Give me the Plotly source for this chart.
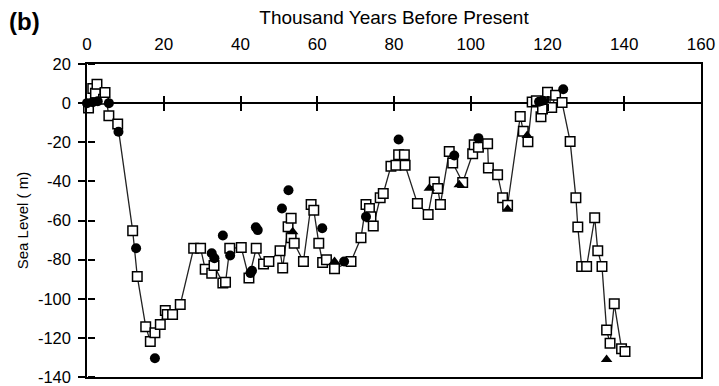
import plotly.graph_objects as go

# Open squares (connected series): age (kyr BP), sea level (m)
sq_age = [0.4, 1.5, 2.2, 2.6, 4.3, 4.7, 5.7, 8.0, 11.9, 13.1, 15.3, 16.5, 17.7, 19.1,
          20.4, 20.9, 22.3, 24.3, 27.8, 29.6, 30.8, 32.5, 33.1, 35.4, 36.1, 37.2, 40.2,
          42.2, 44.1, 46.0, 47.4, 50.3, 51.0, 52.4, 53.2, 53.2, 54.0, 56.4, 58.4, 59.1,
          60.4, 61.4, 62.4, 64.5, 68.8, 71.4, 72.7, 73.6, 74.0, 74.6, 76.4, 77.2, 79.2,
          80.5, 81.2, 82.7, 82.9, 86.1, 88.9, 90.5, 91.4, 92.1, 94.4, 95.3, 97.9, 100.5,
          100.9, 102.0, 104.4, 104.6, 107.0, 108.3, 109.6, 112.9, 113.7, 114.9, 116.0,
          117.1, 118.3, 118.7, 120.0, 121.1, 122.1, 123.8, 125.9, 127.4, 127.9, 128.9,
          130.2, 132.3, 133.1, 134.2, 135.4, 136.3, 137.4, 139.3, 140.2]
sq_sl = [-2.5, 7.5, 5.0, 9.7, 2.0, 5.4, -6.4, -10.7, -65.2, -88.6, -114.3, -121.8, -117.4, -113.2,
         -106.0, -108.0, -108.0, -103.0, -74.2, -74.2, -84.9, -87.0, -83.0, -92.0, -91.6, -74.2, -73.8,
         -89.4, -74.2, -82.3, -81.0, -75.5, -84.3, -63.2, -58.9, -68.8, -71.6, -81.0, -51.8, -54.7,
         -71.6, -81.5, -80.0, -84.7, -81.0, -68.8, -51.8, -53.9, -58.1, -62.8, -48.4, -46.2, -32.3,
         -31.8, -26.4, -26.4, -31.8, -51.3, -56.9, -40.3, -43.7, -51.8, -24.7, -30.6, -40.6, -25.9,
         -21.3, -22.5, -20.8, -33.2, -36.6, -48.4, -52.2, -6.8, -14.4, -19.7, 0.6,
         1.2, -7.0, -3.0, 5.5, -2.2, 4.0, 0.3, -19.6, -48.4, -63.3, -83.5,
         -83.5, -58.6, -75.5, -83.5, -116.0, -122.8, -102.6, -125.5, -127.0]

# Filled circles
ci_age = [0.0, 1.5, 2.8, 5.7, 8.2, 12.8, 17.7, 32.5, 33.2, 35.4, 37.3, 42.6, 43.0, 44.0, 44.5,
          50.8, 52.5, 61.3, 67.0, 72.7, 81.2, 95.7, 102.0, 117.8, 118.7, 124.1]
ci_sl = [0.0, 0.5, 1.0, 0.0, -14.6, -74.2, -130.4, -76.7, -79.3, -67.7, -77.9, -86.9, -85.7, -63.5, -64.9,
         -53.9, -44.5, -64.0, -81.0, -58.1, -18.6, -26.8, -17.9, 0.7, 1.2, 7.1]

# Filled triangles
tr_age = [53.6, 64.5, 89.2, 97.0, 109.6, 114.7, 135.4]
tr_sl = [-65.7, -81.0, -43.5, -41.7, -54.2, -16.5, -131.0]

x_ticks = [0, 20, 40, 60, 80, 100, 120, 140, 160]
y_ticks = [20, 0, -20, -40, -60, -80, -100, -120, -140]
y_ticktext = [str(v) for v in y_ticks]
x_range = [0, 160]
y_range = [-140, 20]

FONT = "Liberation Sans, Arial, sans-serif"

fig = go.Figure()
fig.add_trace(go.Scatter(
    x=sq_age, y=sq_sl, mode="lines+markers",
    line=dict(color="#222", width=1.3),
    marker=dict(symbol="square", size=9.5, color="white", line=dict(color="black", width=1.5)),
    cliponaxis=False))
fig.add_trace(go.Scatter(
    x=ci_age, y=ci_sl, mode="markers",
    marker=dict(symbol="circle", size=10, color="black"),
    cliponaxis=False))
fig.add_trace(go.Scatter(
    x=tr_age, y=tr_sl, mode="markers",
    marker=dict(symbol="triangle-up", size=10, color="black"),
    cliponaxis=False))

zero_pos = (0 - y_range[0]) / (y_range[1] - y_range[0])
inner_ticks = [t for t in x_ticks if 0 < t < 160]

fig.update_layout(
    width=719, height=386,
    margin=dict(l=87, r=18, t=64, b=9, autoexpand=False),
    paper_bgcolor="white", plot_bgcolor="white",
    showlegend=False,
    font=dict(family=FONT, color="black"),
    xaxis=dict(
        range=x_range, side="top", tickvals=x_ticks, ticks="",
        ticklabelstandoff=5, automargin=False, ticklabeloverflow="allow",
        showgrid=False, zeroline=False, showline=True, mirror=True,
        linecolor="black", linewidth=1.5,
        tickfont=dict(size=17),
        title=dict(text="Thousand Years Before Present", font=dict(size=19), standoff=6),
    ),
    yaxis=dict(
        range=y_range, tickvals=y_ticks, ticktext=y_ticktext,
        ticks="outside", ticklen=7, tickwidth=1.5, tickcolor="black",
        ticklabelstandoff=4, ticklabeloverflow="allow", automargin=False,
        showgrid=False, zeroline=True, zerolinecolor="black", zerolinewidth=1.5,
        showline=True, mirror=True, linecolor="black", linewidth=1.5,
        tickfont=dict(size=16.5),
        title=dict(text="Sea Level ( m)", font=dict(size=15), standoff=6),
    ),
    xaxis2=dict(
        range=x_range, overlaying="x", anchor="free", position=zero_pos, side="bottom",
        tickvals=inner_ticks, ticks="outside", ticklen=7, tickwidth=1.5, tickcolor="black",
        showticklabels=False, showgrid=False, zeroline=False, showline=False, automargin=False,
    ),
    xaxis3=dict(
        range=x_range, overlaying="x", anchor="free", position=zero_pos, side="top",
        tickvals=inner_ticks, ticks="outside", ticklen=7, tickwidth=1.5, tickcolor="black",
        showticklabels=False, showgrid=False, zeroline=False, showline=False, automargin=False,
    ),
    yaxis3=dict(
        range=y_range, overlaying="y", anchor="free", position=0, side="right",
        tickvals=y_ticks, ticks="outside", ticklen=7, tickwidth=1.5, tickcolor="black",
        showticklabels=False, showgrid=False, zeroline=False, showline=False, automargin=False,
    ),
    annotations=[dict(
        text="<b>(b)</b>", xref="paper", yref="paper", x=-0.131, y=1.135,
        xanchor="left", yanchor="middle", showarrow=False,
        font=dict(size=24, family=FONT, color="black"))],
)

fig.add_trace(go.Scatter(x=[None], y=[None], xaxis="x2", yaxis="y", showlegend=False, hoverinfo="skip"))
fig.add_trace(go.Scatter(x=[None], y=[None], xaxis="x3", yaxis="y", showlegend=False, hoverinfo="skip"))
fig.add_trace(go.Scatter(x=[None], y=[None], xaxis="x", yaxis="y3", showlegend=False, hoverinfo="skip"))

fig.write_html(
    "out.html",
    config={"displayModeBar": False},
    post_script="document.body.style.margin='0';document.body.style.overflow='hidden';",
)
